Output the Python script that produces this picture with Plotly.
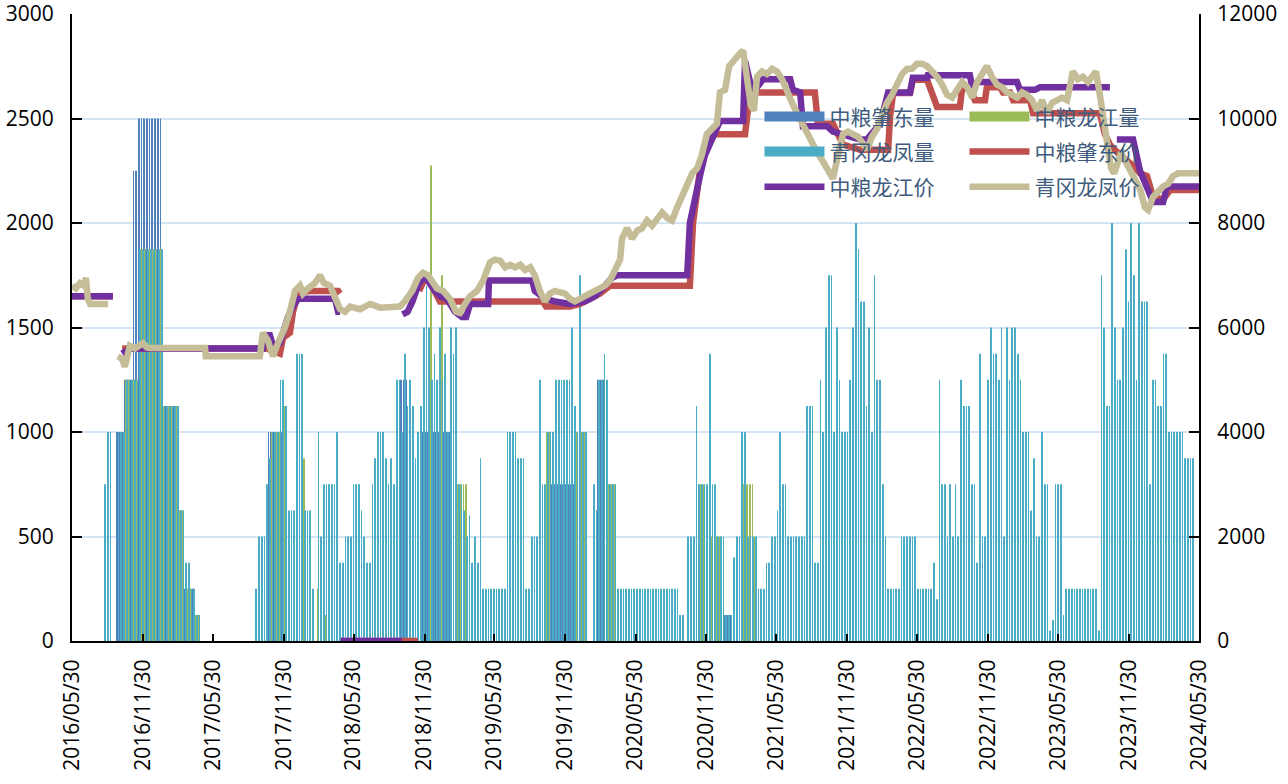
import pandas as pd
import plotly.graph_objects as go

# ---------------- data ----------------
week_start = "2016-05-30"
n_weeks = 418
week_dates = pd.date_range(week_start, periods=n_weeks, freq="7D")

# 青冈龙凤量 (weekly)
qg_vol = [
    0, 0, 0, 0, 0, 0, 0, 0, 0, 0,
    0, 0, 750, 1000, 1000, 0, 0, 1000, 1000, 1000,
    1250, 1250, 1250, 1250, 1250, 1875, 1875, 1875, 1875, 1875,
    1875, 1875, 1875, 1875, 1125, 1125, 1125, 1125, 1125, 1125,
    625, 625, 375, 375, 250, 250, 125, 125, 0, 0,
    0, 0, 0, 0, 0, 0, 0, 0, 0, 0,
    0, 0, 0, 0, 0, 0, 0, 0, 250, 500,
    500, 500, 750, 875, 1000, 1000, 1000, 1250, 1250, 1125,
    625, 625, 625, 1375, 1375, 1375, 625, 625, 625, 250,
    0, 1000, 500, 750, 750, 750, 750, 750, 1000, 375,
    375, 500, 500, 500, 750, 750, 750, 625, 500, 375,
    375, 750, 875, 1000, 1000, 1000, 875, 750, 875, 750,
    1250, 1250, 1000, 1375, 1125, 1250, 1125, 875, 1000, 1125,
    1500, 1700, 1500, 1250, 1375, 1250, 1500, 1250, 1375, 1000,
    1500, 1375, 1500, 750, 750, 625, 500, 600, 375, 500,
    375, 875, 250, 250, 250, 250, 250, 250, 250, 250,
    250, 1000, 1000, 1000, 1000, 875, 875, 875, 250, 250,
    500, 500, 500, 1250, 750, 750, 1000, 1000, 1000, 1250,
    1250, 1250, 1250, 1250, 1250, 1500, 1125, 1000, 1750, 1000,
    1000, 0, 0, 750, 625, 1250, 1250, 1375, 1250, 750,
    750, 750, 250, 250, 250, 250, 250, 250, 250, 250,
    250, 250, 250, 250, 250, 250, 250, 250, 250, 250,
    250, 250, 250, 250, 250, 125, 125, 0, 500, 500,
    500, 1125, 750, 750, 750, 750, 1375, 750, 750, 500,
    500, 500, 125, 125, 125, 400, 500, 500, 1000, 1000,
    500, 500, 500, 500, 250, 250, 250, 375, 375, 500,
    500, 625, 1000, 750, 750, 500, 500, 500, 500, 500,
    500, 500, 1125, 1125, 1125, 375, 375, 1250, 1000, 1500,
    1750, 1750, 1000, 1500, 1250, 1000, 1000, 1000, 1250, 1500,
    2000, 1875, 1625, 1625, 1125, 1500, 1000, 1750, 1250, 1250,
    750, 500, 250, 250, 250, 250, 250, 500, 500, 500,
    500, 500, 500, 250, 250, 250, 250, 250, 250, 375,
    200, 1250, 750, 750, 500, 750, 500, 750, 500, 1250,
    1125, 1125, 1125, 750, 750, 375, 1375, 500, 500, 1250,
    1500, 1375, 1375, 1250, 1500, 500, 1500, 1250, 1500, 1500,
    1375, 1250, 1000, 1000, 1000, 625, 875, 500, 500, 1000,
    750, 750, 50, 100, 750, 750, 750, 125, 250, 250,
    250, 250, 250, 250, 250, 250, 250, 250, 250, 250,
    50, 1750, 1500, 1125, 1125, 2000, 1500, 1250, 1250, 1500,
    1875, 1625, 2000, 1750, 1250, 2000, 1625, 1625, 1625, 750,
    1250, 1250, 1125, 1125, 1375, 1375, 1000, 1000, 1000, 1000,
    1000, 1000, 875, 875, 875, 875, 0, 0,
]

# 中粮龙江量 (weekly)
lj_vol = [
    0, 0, 0, 0, 0, 0, 0, 0, 0, 0,
    0, 0, 0, 0, 0, 0, 0, 0, 0, 0,
    1250, 1250, 1250, 1250, 1250, 1875, 1875, 1875, 1875, 1875,
    1875, 1875, 1875, 1875, 1125, 1125, 1125, 1125, 1125, 1125,
    625, 625, 250, 250, 250, 250, 125, 125, 0, 0,
    0, 0, 0, 0, 0, 0, 0, 0, 0, 0,
    0, 0, 0, 0, 0, 0, 0, 0, 0, 0,
    0, 0, 0, 0, 1000, 1000, 1000, 1000, 1000, 1125,
    0, 0, 0, 0, 0, 0, 875, 0, 0, 0,
    0, 250, 250, 0, 125, 0, 0, 0, 0, 0,
    0, 0, 0, 0, 0, 0, 0, 0, 0, 0,
    0, 0, 0, 0, 0, 0, 0, 0, 0, 0,
    0, 0, 0, 0, 0, 0, 0, 0, 0, 0,
    0, 0, 0, 2275, 0, 0, 0, 1750, 0, 0,
    0, 0, 0, 750, 750, 750, 750, 0, 0, 0,
    0, 0, 0, 0, 0, 0, 0, 0, 0, 0,
    0, 0, 0, 0, 0, 0, 0, 0, 0, 0,
    0, 0, 0, 0, 0, 0, 1000, 1000, 1000, 0,
    0, 0, 0, 0, 0, 0, 0, 1000, 1000, 1000,
    1000, 0, 0, 0, 0, 0, 0, 0, 0, 750,
    750, 750, 0, 0, 0, 0, 0, 0, 0, 0,
    0, 0, 0, 0, 0, 0, 0, 0, 0, 0,
    0, 0, 0, 0, 0, 0, 0, 0, 0, 0,
    0, 0, 750, 750, 750, 750, 0, 500, 500, 500,
    500, 0, 0, 0, 0, 0, 0, 0, 750, 750,
    750, 750, 750, 500, 0, 0, 0, 0, 0, 0,
    0, 0, 0, 0, 0, 0, 0, 0, 0, 0,
    0, 0, 0, 0, 0, 0, 0, 0, 0, 0,
    0, 0, 0, 0, 0, 0, 0, 0, 0, 0,
    0, 0, 0, 0, 0, 0, 0, 0, 0, 0,
    0, 0, 0, 0, 0, 0, 0, 0, 0, 0,
    0, 0, 0, 0, 0, 0, 0, 0, 0, 0,
    0, 0, 0, 0, 0, 0, 0, 0, 0, 0,
    0, 0, 0, 0, 0, 0, 0, 0, 0, 0,
    0, 0, 0, 0, 0, 0, 0, 0, 0, 0,
    0, 0, 0, 0, 0, 0, 0, 0, 0, 0,
    0, 0, 0, 0, 0, 0, 0, 0, 0, 0,
    0, 0, 0, 0, 0, 0, 0, 0, 0, 0,
    0, 0, 0, 0, 0, 0, 0, 0, 0, 0,
    0, 0, 0, 0, 0, 0, 0, 0, 0, 0,
    0, 0, 0, 0, 0, 0, 0, 0, 0, 0,
    0, 0, 0, 0, 0, 0, 0, 0,
]

# 中粮肇东量 (weekly)
zd_vol = [
    0, 0, 0, 0, 0, 0, 0, 0, 0, 0,
    0, 0, 0, 0, 0, 0, 0, 1000, 1000, 1000,
    1250, 1250, 1250, 2250, 2250, 2500, 2500, 2500, 2500, 2500,
    2500, 2500, 2500, 2500, 1125, 1125, 1125, 1125, 1125, 1125,
    625, 625, 250, 250, 250, 250, 0, 0, 0, 0,
    0, 0, 0, 0, 0, 0, 0, 0, 0, 0,
    0, 0, 0, 0, 0, 0, 0, 0, 0, 0,
    0, 0, 0, 1000, 1000, 1000, 1000, 1000, 1000, 0,
    0, 0, 0, 0, 0, 0, 0, 0, 0, 0,
    0, 0, 0, 0, 0, 0, 0, 0, 0, 0,
    0, 0, 0, 0, 0, 0, 0, 0, 0, 0,
    0, 0, 0, 0, 0, 0, 0, 0, 0, 0,
    0, 0, 1250, 1250, 1250, 0, 0, 0, 0, 0,
    1000, 1000, 1000, 1000, 1000, 1000, 1000, 1000, 1000, 1000,
    1000, 0, 0, 0, 0, 0, 0, 0, 0, 0,
    0, 0, 0, 0, 0, 0, 0, 0, 0, 0,
    0, 0, 0, 0, 0, 0, 0, 0, 0, 0,
    0, 0, 0, 0, 0, 0, 750, 750, 750, 750,
    750, 750, 750, 750, 750, 750, 750, 0, 0, 0,
    0, 0, 0, 0, 0, 1250, 1250, 1250, 0, 0,
    0, 0, 0, 0, 0, 0, 0, 0, 0, 0,
    0, 0, 0, 0, 0, 0, 0, 0, 0, 0,
    0, 0, 0, 0, 0, 0, 0, 0, 0, 0,
    0, 0, 0, 0, 0, 0, 0, 0, 0, 0,
    0, 0, 125, 125, 125, 0, 0, 0, 0, 0,
    0, 0, 0, 0, 0, 0, 0, 0, 0, 0,
    0, 0, 0, 0, 0, 0, 0, 0, 0, 0,
    0, 0, 0, 0, 0, 0, 0, 0, 0, 0,
    0, 0, 0, 0, 0, 0, 0, 0, 0, 0,
    0, 0, 0, 0, 0, 0, 0, 0, 0, 0,
    0, 0, 0, 0, 0, 0, 0, 0, 0, 0,
    0, 0, 0, 0, 0, 0, 0, 0, 0, 0,
    0, 0, 0, 0, 0, 0, 0, 0, 0, 0,
    0, 0, 0, 0, 0, 0, 0, 0, 0, 0,
    0, 0, 0, 0, 0, 0, 0, 0, 0, 0,
    0, 0, 0, 0, 0, 0, 0, 0, 0, 0,
    0, 0, 0, 0, 0, 0, 0, 0, 0, 0,
    0, 0, 0, 0, 0, 0, 0, 0, 0, 0,
    0, 0, 0, 0, 0, 0, 0, 0, 0, 0,
    0, 0, 0, 0, 0, 0, 0, 0, 0, 0,
    0, 0, 0, 0, 0, 0, 0, 0, 0, 0,
    0, 0, 0, 0, 0, 0, 0, 0,
]

# 中粮肇东价 (None = gap)
zd_price_dates = [
    "2016-05-30", "2016-09-13", None,
    "2016-10-07", "2017-10-17", "2017-11-20", "2017-11-28", "2017-12-16", "2017-12-24",
    "2018-01-06", "2018-02-06", "2018-04-20", "2018-04-25", None,
    "2018-04-27", "2018-11-13", None,
    "2018-11-16", "2018-12-01", "2018-12-19", "2019-01-09", "2019-10-03", "2019-10-11",
    "2019-12-12", "2020-01-07", "2020-02-02", "2020-02-28", "2020-03-25", "2020-10-18",
    "2020-10-26", "2020-11-06", "2020-11-13", "2020-12-01", "2020-12-09", "2021-03-10",
    "2021-03-23", "2021-09-07", "2021-09-15", "2021-10-24", "2021-11-19", "2022-01-02",
    "2022-03-16", "2022-03-21", "2022-03-29", "2022-05-12", "2022-05-19", "2022-06-25",
    "2022-07-03", "2022-07-21", "2022-09-18", "2022-09-24", "2022-10-14", "2022-10-27",
    "2022-11-22", "2022-11-27", "2022-12-31", "2023-01-08", "2023-01-26", "2023-02-03",
    "2023-03-19", "2023-03-27", "2023-09-16", "2023-09-29", "2023-10-12", "2023-11-07",
    "2023-12-11", "2023-12-29", "2024-01-16", "2024-02-01", "2024-02-27", "2024-03-16",
    "2024-05-30",
]
zd_price = [
    6600, 6600, None,
    5600, 5600, 5500, 5800, 5900, 6300,
    6650, 6700, 6700, 6650, None,
    0, 0, None,
    6700, 6950, 6800, 6500, 6500, 6400,
    6400, 6450, 6550, 6650, 6800, 6800,
    8000, 8600, 9000, 9500, 9700, 9700,
    10500, 10500, 9900, 9900, 9500, 9400,
    9400, 10030, 10490, 10490, 10740, 10740,
    10600, 10220, 10220, 10580, 10580, 10350,
    10350, 10600, 10600, 10500, 10500, 10350,
    10350, 10100, 10100, 9700, 9500, 9300,
    9100, 8950, 8900, 8500, 8450, 8630,
    8630,
]

# 中粮龙江价
lj_price_dates = [
    "2016-05-30", "2016-09-13", None,
    "2016-10-07", "2016-10-17", "2016-10-27", "2017-10-07", "2017-10-12", "2017-10-25",
    "2017-11-02", "2017-11-20", "2017-11-28", "2017-12-11", "2017-12-24", "2018-01-06",
    "2018-04-12", "2018-04-20", "2018-04-25", None,
    "2018-04-27", "2018-10-02", None,
    "2018-10-04", "2018-10-17", "2018-10-30", "2018-11-13", "2018-11-26", "2018-12-09",
    "2018-12-22", "2019-01-09", "2019-01-27", "2019-02-17", "2019-03-07", "2019-03-18",
    "2019-03-28", "2019-05-14", "2019-05-16", "2019-09-05", "2019-09-12", "2019-10-08",
    "2019-11-03", "2019-12-12", "2020-01-20", "2020-02-15", "2020-03-12", "2020-03-30",
    "2020-04-12", "2020-10-11", "2020-10-18", "2020-10-31", "2020-11-13", "2020-11-26",
    "2020-12-14", "2021-01-04", "2021-03-05", "2021-03-10", "2021-03-23", "2021-04-05",
    "2021-04-26", "2021-07-05", "2021-07-12", "2021-07-31", "2021-08-07", "2021-10-09",
    "2021-10-24", "2022-01-02", "2022-01-20", "2022-02-23", "2022-03-16", "2022-05-12",
    "2022-05-19", "2022-06-25", "2022-06-27", "2022-10-14", "2022-10-20", "2022-11-02",
    "2023-02-13", "2023-02-21", "2023-04-01", "2023-04-14", "2023-10-12", None,
    "2023-10-30", "2023-12-11", "2023-12-29", "2024-01-24", "2024-02-01", "2024-02-27",
    "2024-03-08", "2024-05-30",
]
lj_price = [
    6600, 6600, None,
    5500, 5550, 5600, 5600, 5850, 5850,
    5650, 5700, 5900, 6200, 6400, 6550,
    6550, 6300, 6300, None,
    0, 0, None,
    6250, 6300, 6500, 6800, 6950, 6900,
    6750, 6600, 6550, 6300, 6200, 6200,
    6450, 6450, 6900, 6900, 6700, 6550,
    6500, 6450, 6500, 6600, 6800, 6950,
    7000, 7000, 8000, 8500, 8900, 9300,
    9600, 9950, 9950, 11100, 10700, 10550,
    10750, 10750, 10550, 10500, 9850, 9850,
    9750, 9600, 9600, 9900, 10500, 10500,
    10780, 10780, 10830, 10830, 10600, 10700,
    10700, 10550, 10550, 10600, 10600, None,
    9600, 9600, 9000, 8500, 8400, 8400,
    8700, 8700,
]

# 青冈龙凤价
qg_price_dates = [
    "2016-05-30", "2016-06-09", "2016-06-20", "2016-06-30", "2016-07-05", "2016-07-10",
    "2016-07-16", "2016-08-31", None,
    "2016-09-26", "2016-10-07", "2016-10-14", "2016-10-20", "2016-10-27", "2016-11-09",
    "2016-11-22", "2016-11-30", "2016-12-10", "2016-12-18", "2017-05-10", "2017-05-12",
    "2017-09-29", "2017-10-07", "2017-10-20", "2017-11-02", "2017-11-15", "2017-12-03",
    "2017-12-16", "2017-12-29", "2018-01-11", "2018-01-19", "2018-02-01", "2018-02-19",
    "2018-03-04", "2018-03-14", "2018-03-30", "2018-04-12", "2018-04-25", "2018-05-08",
    "2018-05-21", "2018-06-16", "2018-07-12", "2018-08-07", "2018-09-27", "2018-10-10",
    "2018-10-29", "2018-11-13", "2018-11-26", "2018-12-09", "2018-12-22", "2019-01-01",
    "2019-01-17", "2019-02-04", "2019-02-20", "2019-03-02", "2019-03-15", "2019-03-28",
    "2019-04-15", "2019-05-01", "2019-05-19", "2019-06-01", "2019-06-14", "2019-06-27",
    "2019-07-10", "2019-07-23", "2019-08-05", "2019-08-18", "2019-08-31", "2019-09-12",
    "2019-09-25", "2019-10-08", "2019-10-21", "2019-11-03", "2019-11-29", "2019-12-12",
    "2019-12-25", "2020-01-07", "2020-01-20", "2020-02-02", "2020-02-15", "2020-02-28",
    "2020-03-12", "2020-03-25", "2020-04-07", "2020-04-20", "2020-04-25", "2020-05-08",
    "2020-05-21", "2020-06-03", "2020-06-16", "2020-06-29", "2020-07-12", "2020-07-25",
    "2020-08-07", "2020-08-20", "2020-09-02", "2020-09-15", "2020-09-28", "2020-10-11",
    "2020-10-24", "2020-11-06", "2020-11-18", "2020-12-01", "2020-12-14", "2020-12-27",
    "2021-01-04", "2021-01-17", "2021-01-28", "2021-02-12", "2021-02-25", "2021-03-05",
    "2021-03-15", "2021-03-25", "2021-04-02", "2021-04-10", "2021-04-23", "2021-05-06",
    "2021-05-19", "2021-06-01", "2021-06-14", "2021-06-27", "2021-07-10", "2021-07-23",
    "2021-08-05", "2021-08-18", "2021-08-31", "2021-09-13", "2021-09-26", "2021-10-11",
    "2021-10-24", "2021-11-06", "2021-11-19", "2021-12-02", "2021-12-15", "2021-12-28",
    "2022-01-07", "2022-01-20", "2022-02-02", "2022-02-15", "2022-02-28", "2022-03-13",
    "2022-03-26", "2022-04-08", "2022-04-21", "2022-05-04", "2022-05-17", "2022-05-30",
    "2022-06-12", "2022-06-25", "2022-07-08", "2022-07-21", "2022-08-03", "2022-08-16",
    "2022-08-29", "2022-09-11", "2022-09-24", "2022-10-07", "2022-10-20", "2022-11-02",
    "2022-11-15", "2022-11-27", "2022-12-10", "2022-12-23", "2023-01-05", "2023-01-18",
    "2023-01-31", "2023-02-13", "2023-02-26", "2023-03-11", "2023-03-24", "2023-04-06",
    "2023-04-19", "2023-05-02", "2023-05-15", "2023-05-28", "2023-06-10", "2023-06-23",
    "2023-07-01", "2023-07-08", "2023-07-21", "2023-08-03", "2023-08-16", "2023-08-29",
    "2023-09-06", "2023-09-16", "2023-09-27", "2023-10-07", "2023-10-15", "2023-10-23",
    "2023-10-30", "2023-11-10", "2023-11-20", "2023-12-03", "2023-12-16", "2023-12-29",
    "2024-01-11", "2024-01-19", "2024-02-01", "2024-02-14", "2024-02-27", "2024-03-11",
    "2024-03-24", "2024-04-06", "2024-05-30",
]
qg_price = [
    6800, 6750, 6850, 6800, 6950, 6550,
    6450, 6450, None,
    5450, 5400, 5250, 5500, 5650, 5600,
    5650, 5700, 5620, 5610, 5610, 5450,
    5450, 5900, 5750, 5450, 5700, 6000,
    6300, 6700, 6800, 6650, 6750, 6850,
    7000, 6850, 6800, 6600, 6350, 6300,
    6400, 6350, 6450, 6380, 6400, 6500,
    6700, 6950, 7050, 7000, 6850, 6750,
    6700, 6550, 6300, 6280, 6450, 6600,
    6700, 6900, 7250, 7300, 7280, 7150,
    7200, 7150, 7200, 7100, 7150, 7000,
    6700, 6500, 6650, 6700, 6650, 6550,
    6500, 6550, 6600, 6650, 6700, 6750,
    6800, 6900, 7100, 7300, 7700, 7900,
    7700, 7850, 7900, 8050, 7950, 8100,
    8200, 8100, 8050, 8300, 8500, 8750,
    8950, 9050, 9300, 9700, 9800, 9900,
    10500, 10550, 11000, 11150, 11250, 11300,
    10700, 10250, 10150, 10800, 10900, 10850,
    10950, 10900, 10750, 10500, 10300, 10100,
    9900, 9700, 9550, 9350, 9200, 9000,
    8850, 9300, 9700, 9750, 9700, 9650,
    9550, 9400, 9650, 9800, 10050, 10300,
    10450, 10650, 10850, 10950, 10950, 11050,
    11050, 11000, 10900, 10800, 10650, 10450,
    10400, 10550, 10700, 10600, 10400, 10700,
    10850, 11000, 10800, 10650, 10600, 10500,
    10450, 10400, 10500, 10450, 10350, 10150,
    10350, 10100, 10300, 10350, 10400, 10350,
    10750, 10900, 10750, 10800, 10700, 10850,
    10900, 10450, 9900, 9500, 9050, 8950,
    9100, 9350, 9200, 9000, 8800, 8650,
    8300, 8250, 8500, 8600, 8700, 8750,
    8900, 8950, 8950,
]

x_tick_dates = [
    "2016-05-30", "2016-11-30", "2017-05-30", "2017-11-30", "2018-05-30",
    "2018-11-30", "2019-05-30", "2019-11-30", "2020-05-30", "2020-11-30",
    "2021-05-30", "2021-11-30", "2022-05-30", "2022-11-30", "2023-05-30",
    "2023-11-30", "2024-05-30",
]
x_tick_text = [d.replace("-", "/") for d in x_tick_dates]

# ---------------- figure ----------------
C_ZD_BAR = "#4f81bd"
C_LJ_BAR = "#9bbb59"
C_QG_BAR = "#4bacc6"
C_ZD_LINE = "#c0504d"
C_LJ_LINE = "#7030a0"
C_QG_LINE = "#c4bd97"

fig = go.Figure()
fig.add_trace(go.Bar(x=week_dates, y=zd_vol, name="中粮肇东量", marker_color=C_ZD_BAR,
                     marker_line_width=0, showlegend=False))
fig.add_trace(go.Bar(x=week_dates, y=lj_vol, name="中粮龙江量", marker_color=C_LJ_BAR,
                     marker_line_width=0, showlegend=False))
fig.add_trace(go.Bar(x=week_dates, y=qg_vol, name="青冈龙凤量", marker_color=C_QG_BAR,
                     marker_line_width=0, showlegend=False))

# legend swatches for the volume series (wide rectangles as in the original legend)
for name, col, lg in [("中粮肇东量", C_ZD_BAR, "legend"), ("中粮龙江量", C_LJ_BAR, "legend"),
                      ("青冈龙凤量", C_QG_BAR, "legend2")]:
    fig.add_trace(go.Scatter(x=[None], y=[None], name=name, mode="lines",
                             line=dict(color=col, width=16), legend=lg, hoverinfo="skip"))

fig.add_trace(go.Scatter(x=zd_price_dates, y=zd_price, name="中粮肇东价", mode="lines",
                         line=dict(color=C_ZD_LINE, width=6.5), yaxis="y2", legend="legend2"))
fig.add_trace(go.Scatter(x=lj_price_dates, y=lj_price, name="中粮龙江价", mode="lines",
                         line=dict(color=C_LJ_LINE, width=6.5), yaxis="y2", legend="legend3"))
fig.add_trace(go.Scatter(x=qg_price_dates, y=qg_price, name="青冈龙凤价", mode="lines",
                         line=dict(color=C_QG_LINE, width=6.5), yaxis="y2", legend="legend3"))

tick_font = dict(family="Open Sans, Liberation Sans, sans-serif", size=21, color="#000000")
legend_common = dict(
    orientation="h", bgcolor="rgba(0,0,0,0)", borderwidth=0,
    font=dict(family="Noto Sans CJK SC", size=21, color="#3f5b7d"),
    xanchor="left", yanchor="middle", entrywidth=130, entrywidthmode="pixels",
    itemwidth=60, tracegroupgap=0,
)

fig.update_layout(
    width=1288, height=784,
    margin=dict(l=72, r=89, t=14, b=143, autoexpand=False),
    paper_bgcolor="white", plot_bgcolor="white",
    barmode="group", bargap=0.2, bargroupgap=0.0,
    hovermode=False,
    showlegend=True,
    legend=dict(x=0.61, y=0.836, **legend_common),
    legend2=dict(x=0.61, y=0.78, **legend_common),
    legend3=dict(x=0.61, y=0.724, **legend_common),
    xaxis=dict(
        type="date", range=["2016-05-30", "2024-05-30"],
        tickmode="array", tickvals=x_tick_dates, ticktext=x_tick_text, tickangle=-90,
        ticks="inside", ticklen=7, tickwidth=2, tickcolor="#000000",
        showline=True, linecolor="#000000", linewidth=2, automargin=False,
        ticklabeloverflow="allow",
        showgrid=False, zeroline=False, tickfont=tick_font, ticklabelstandoff=8,
    ),
    yaxis=dict(
        range=[0, 3000], dtick=500, tick0=0, automargin=False,
        ticklabeloverflow="allow",
        ticks="inside", ticklen=10, tickwidth=2, tickcolor="#000000",
        showline=True, linecolor="#000000", linewidth=2,
        showgrid=True, gridcolor="#d5e4f2", gridwidth=1.5, zeroline=False,
        tickfont=tick_font, ticklabelstandoff=12,
    ),
    yaxis2=dict(
        range=[0, 12000], dtick=2000, tick0=0, overlaying="y", side="right",
        tickformat="d", automargin=False, ticklabeloverflow="allow",
        ticks="inside", ticklen=10, tickwidth=2, tickcolor="#000000",
        showline=True, linecolor="#000000", linewidth=2,
        showgrid=False, zeroline=False, tickfont=tick_font, ticklabelstandoff=12,
    ),
)

# remove the default 8px page margin so the figure fills the window exactly
fig.write_html("out.html", config={"displayModeBar": False},
               post_script="document.body.style.margin='0';")
